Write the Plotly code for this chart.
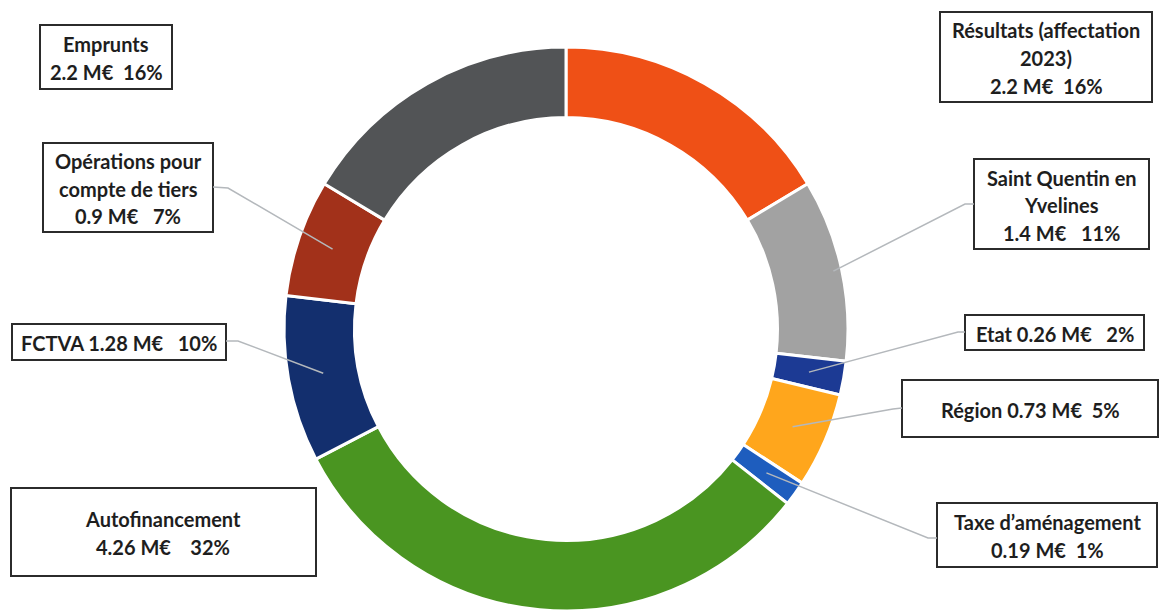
import math
import plotly.graph_objects as go

# ---------------- data ----------------
categories = ["Résultats (affectation 2023)", "Saint Quentin en Yvelines", "Etat", "Région",
              "Taxe d’aménagement", "Autofinancement", "FCTVA",
              "Opérations pour compte de tiers", "Emprunts"]
values = [2.2, 1.4, 0.26, 0.73, 0.19, 4.26, 1.28, 0.9, 2.2]
percents = [16, 11, 2, 5, 1, 32, 10, 7, 16]
colors = ["#EF5016", "#A2A2A2", "#1C3A94", "#FFA61C", "#1E5DBE",
          "#4A9521", "#132F6E", "#A2311A", "#525456"]

NB = "\u00a0"


def amt(i, gap=2):
    return f"{values[i]:g}{NB}M€" + NB * gap + f"{percents[i]}%"


label_lines = [
    ["Résultats (affectation", "2023)", amt(0)],
    ["Saint Quentin en", "Yvelines", amt(1, 3)],
    ["Etat " + amt(2, 3)],
    ["Région " + amt(3)],
    ["Taxe d’aménagement", amt(4)],
    ["Autofinancement", amt(5, 4)],
    ["FCTVA " + amt(6, 3)],
    ["Opérations pour", "compte de tiers", amt(7, 3)],
    ["Emprunts", amt(8)],
]

# ---------------- layout (pixels) ----------------
W, H = 1159, 611
CX, CY, R = 566, 329, 282
HOLE = 0.75
LINE_H = 27.5
FONT_SIZE = 20

# box: (x0, y0, x1, y1) in px
boxes = [
    (940, 12, 1152, 102),
    (974, 159, 1149, 249),
    (965, 315, 1144, 350),
    (902, 380, 1158, 437),
    (937, 503, 1157, 567),
    (11, 488, 316, 576),
    (12, 324, 226, 360),
    (43, 143, 213, 232),
    (40, 25, 172, 89),
]
# leader line: (box edge point, elbow point, radius fraction) or None
leaders = [
    None,
    ((974, 204), (965, 204), 0.97),
    ((965, 332), (958, 332), 0.88),
    ((902, 408), (893, 409), 0.88),
    ((937, 538), (928, 538), 0.88),
    None,
    ((226, 341), (238, 341), 0.88),
    ((213, 187), (228, 188), 0.88),
    None,
]


def px(x):
    return x / W


def py(y):
    return 1 - y / H


fig = go.Figure(go.Pie(
    labels=categories,
    values=values,
    sort=False,
    direction="clockwise",
    rotation=0,
    hole=HOLE,
    marker=dict(colors=colors, line=dict(color="white", width=3)),
    textinfo="none",
    hoverinfo="label+value",
    showlegend=False,
    domain=dict(x=[(CX - R) / W, (CX + R) / W], y=[py(CY + R), py(CY - R)]),
))

total = sum(values)
shapes = []
annotations = []
cum = 0.0
for i, v in enumerate(values):
    mid = (cum + v / 2) / total
    cum += v
    x0, y0, x1, y1 = boxes[i]
    shapes.append(dict(type="rect", xref="paper", yref="paper",
                       x0=px(x0), x1=px(x1), y0=py(y0), y1=py(y1),
                       line=dict(color="#2B2B2B", width=2), fillcolor="white", layer="above"))
    lines = label_lines[i]
    tcy = (y0 + y1) / 2 + 1
    n = len(lines)
    for k, t in enumerate(lines):
        ly = tcy + (k - (n - 1) / 2) * LINE_H
        annotations.append(dict(xref="paper", yref="paper", x=px((x0 + x1) / 2), y=py(ly),
                                text=f"<b>{t}</b>", showarrow=False, xanchor="center",
                                yanchor="middle",
                                font=dict(family="Lato", size=FONT_SIZE, color="#1E1E1E")))
    if leaders[i] is not None:
        (ex, ey), (bx, by), rf = leaders[i]
        theta = 2 * math.pi * mid
        r = R * rf if rf > 0.9 else R * (1 + HOLE) / 2
        ax = CX + r * math.sin(theta)
        ay = CY - r * math.cos(theta)
        path = f"M {px(ex)} {py(ey)} L {px(bx)} {py(by)} L {px(ax)} {py(ay)}"
        shapes.append(dict(type="path", xref="paper", yref="paper", path=path,
                           line=dict(color="#B4B8BC", width=1.5), layer="above"))

fig.update_layout(
    width=W, height=H,
    margin=dict(l=0, r=0, t=0, b=0),
    paper_bgcolor="white", plot_bgcolor="white",
    shapes=shapes, annotations=annotations,
)
fig.write_html("out.html",
               config={"displayModeBar": False},
               post_script="document.body.style.margin='0px';document.body.style.overflow='hidden';")
